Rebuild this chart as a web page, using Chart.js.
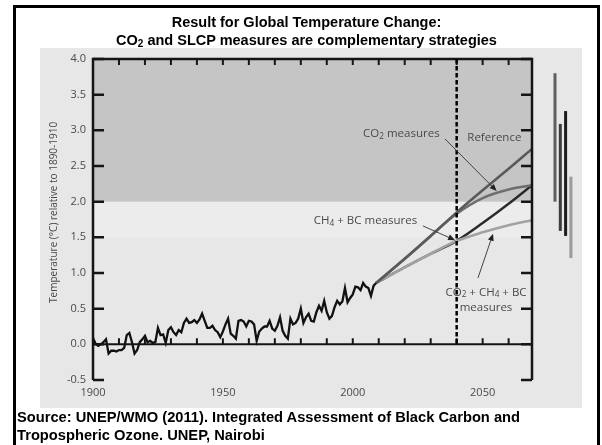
<!DOCTYPE html>
<html>
<head>
<meta charset="utf-8">
<script src="https://cdn.jsdelivr.net/npm/chart.js@4/dist/chart.umd.min.js"></script>
<style>
  html, body { margin: 0; padding: 0; background: #fff; width: 602px; height: 445px; overflow: hidden; }
  #frame { position: absolute; left: 13px; top: 5px; width: 587px; height: 470px; border: 3px solid #000; box-sizing: border-box; }
  #panel { position: absolute; left: 40px; top: 48px; width: 542px; height: 360px; background: #e7e7e7; }
  #chart { position: absolute; left: 0; top: 0; }
  #title { position: absolute; left: 13px; width: 587px; top: 13px; text-align: center;
           font: bold 14.5px "Liberation Sans", Arial, sans-serif; line-height: 18px; color: #000; }
  #source { position: absolute; left: 17px; top: 409px;
            font: bold 14.7px "Liberation Sans", Arial, sans-serif; line-height: 17.5px; color: #000; }
  sub { font-size: 10px; vertical-align: -2px; line-height: 0; }
</style>
</head>
<body>
<div id="frame"></div>
<div id="panel"></div>
<canvas id="chart" width="602" height="445"></canvas>
<div id="title">Result for Global Temperature Change:<br>CO<sub>2</sub> and SLCP measures are complementary strategies</div>
<div id="source">Source: UNEP/WMO (2011). Integrated Assessment of Black Carbon and<br>Tropospheric Ozone. UNEP, Nairobi</div>
<script>
// Observed global temperature, °C relative to 1890-1910, one value per year from 1900
const observedStartYear = 1900;
const observedValues = [
  0.09, 0.01, -0.02, 0.00, 0.03, 0.07, -0.13, -0.09, -0.09, -0.10,
  -0.08, -0.08, -0.05, 0.13, 0.16, 0.03, -0.13, -0.08, 0.03, 0.07,
  0.12, 0.03, 0.05, 0.02, 0.03, 0.23, 0.13, 0.14, 0.02, 0.20,
  0.24, 0.17, 0.13, 0.20, 0.17, 0.30, 0.36, 0.30, 0.31, 0.34,
  0.30, 0.35, 0.43, 0.33, 0.23, 0.23, 0.26, 0.20, 0.17, 0.10,
  0.18, 0.28, 0.36, 0.15, 0.12, 0.08, 0.33, 0.34, 0.32, 0.25,
  0.33, 0.32, 0.28, 0.05, 0.18, 0.22, 0.25, 0.25, 0.33, 0.22,
  0.19, 0.26, 0.38, 0.19, 0.12, 0.08, 0.36, 0.28, 0.30, 0.36,
  0.50, 0.30, 0.38, 0.43, 0.33, 0.32, 0.45, 0.54, 0.47, 0.61,
  0.45, 0.36, 0.40, 0.52, 0.61, 0.56, 0.60, 0.79, 0.59, 0.65,
  0.70, 0.81, 0.80, 0.76, 0.86, 0.81, 0.79, 0.68, 0.82, 0.86
];

// Projected scenarios
const projectionYears = [2009, 2020, 2030, 2040, 2050, 2060, 2069];
const referenceValues = [0.86, 1.20, 1.52, 1.85, 2.16, 2.46, 2.74];
const co2MeasuresValues = [0.86, 1.20, 1.52, 1.83, 2.05, 2.17, 2.23];
const ch4BcMeasuresValues = [0.86, 1.08, 1.27, 1.45, 1.70, 1.97, 2.23];
const allMeasuresValues = [0.86, 1.08, 1.27, 1.45, 1.57, 1.67, 1.74];

// Ranges of 2070 warming for each scenario: [low, high]
const rangeReference = [2.00, 3.80];
const rangeCo2 = [1.59, 3.09];
const rangeCh4Bc = [1.52, 3.27];
const rangeAll = [1.21, 2.35];

// Axis ticks
const xLabelYears = [1900, 1950, 2000, 2050];
const xMinorStep = 10;
const yTickValues = [-0.5, 0.0, 0.5, 1.0, 1.5, 2.0, 2.5, 3.0, 3.5, 4.0];
const implementationYear = 2040;
const targetLimit = 2.0;
const bandLow = 1.5;

const xMin = 1900, xMax = 2069;

const toPoints = (years, vals) => vals.map((v, i) => ({ x: years[i], y: v }));
const observedPoints = observedValues.map((v, i) => ({ x: observedStartYear + i, y: v }));

const labelColor = '#4a4a4a';
const labelFont = '"Open Sans", "DejaVu Sans", sans-serif';

function drawRich(ctx, parts, cx, cy, size) {
  const subSize = size * 0.72;
  let total = 0;
  const widths = parts.map(p => {
    ctx.font = (p.sub ? subSize : size) + 'px ' + labelFont;
    const w = ctx.measureText(p.t).width;
    total += w;
    return w;
  });
  let x = cx - total / 2;
  ctx.textBaseline = 'middle';
  ctx.textAlign = 'left';
  parts.forEach((p, i) => {
    ctx.font = (p.sub ? subSize : size) + 'px ' + labelFont;
    ctx.fillText(p.t, x, cy + (p.sub ? size * 0.22 : 0));
    x += widths[i];
  });
}

function arrow(ctx, x1, y1, x2, y2) {
  const ang = Math.atan2(y2 - y1, x2 - x1);
  const len = 7, half = 3;
  ctx.beginPath();
  ctx.moveTo(x1, y1);
  ctx.lineTo(x2 - Math.cos(ang) * len * 0.8, y2 - Math.sin(ang) * len * 0.8);
  ctx.stroke();
  ctx.beginPath();
  ctx.moveTo(x2, y2);
  ctx.lineTo(x2 - Math.cos(ang) * len - Math.sin(ang) * half, y2 - Math.sin(ang) * len + Math.cos(ang) * half);
  ctx.lineTo(x2 - Math.cos(ang) * len + Math.sin(ang) * half, y2 - Math.sin(ang) * len - Math.cos(ang) * half);
  ctx.closePath();
  ctx.fill();
}

// Labels placed in data coordinates (year, °C)
const annotations = [
  { parts: [{ t: 'CO' }, { t: '2', sub: true }, { t: ' measures' }], at: [2018.7, 2.95], arrow: [[2035.5, 2.88], [2055.4, 2.15]] },
  { parts: [{ t: 'Reference' }], at: [2054.5, 2.89] },
  { parts: [{ t: 'CH' }, { t: '4', sub: true }, { t: ' + BC measures' }], at: [2004.9, 1.73], arrow: [[2027, 1.66], [2039.4, 1.46]] },
  { parts: [{ t: 'CO' }, { t: '2', sub: true }, { t: ' + CH' }, { t: '4', sub: true }, { t: ' + BC' }], at: [2051.3, 0.73], arrow: [[2048.2, 0.93], [2054, 1.55]] },
  { parts: [{ t: 'measures' }], at: [2051.3, 0.52] }
];

const decor = {
  id: 'decor',
  beforeDatasetsDraw(chart) {
    const { ctx, chartArea: a, scales: { y } } = chart;
    const y2 = y.getPixelForValue(targetLimit);
    const y15 = y.getPixelForValue(bandLow);
    ctx.save();
    ctx.fillStyle = '#ececec';
    ctx.fillRect(a.left, y2, a.width, y15 - y2);
    ctx.fillStyle = '#c5c5c5';
    ctx.fillRect(a.left, a.top, a.width, y2 - a.top);
    ctx.restore();
  },
  afterDatasetsDraw(chart) {
    const { ctx, chartArea: a, scales: { x, y } } = chart;
    const y0 = y.getPixelForValue(0);
    ctx.save();
    ctx.strokeStyle = '#151515';
    ctx.lineCap = 'butt';

    // frame lines
    ctx.lineWidth = 2.5;
    ctx.beginPath();
    ctx.moveTo(a.left, a.bottom); ctx.lineTo(a.left, a.top);
    ctx.lineTo(a.right, a.top); ctx.lineTo(a.right, a.bottom);
    ctx.stroke();
    ctx.lineWidth = 2;
    ctx.beginPath();
    ctx.moveTo(a.left, y0); ctx.lineTo(a.right, y0);
    ctx.stroke();

    // y ticks on both sides, pointing inward
    ctx.lineWidth = 2.5;
    yTickValues.forEach(v => {
      const py = y.getPixelForValue(v);
      ctx.beginPath();
      ctx.moveTo(a.left, py); ctx.lineTo(a.left + 11, py);
      ctx.moveTo(a.right - 11, py); ctx.lineTo(a.right, py);
      ctx.stroke();
    });

    // decade ticks along top edge and the zero line
    ctx.lineWidth = 2;
    for (let yr = xMin + xMinorStep; yr < xMax; yr += xMinorStep) {
      const px = x.getPixelForValue(yr);
      ctx.beginPath();
      ctx.moveTo(px, a.top); ctx.lineTo(px, a.top + 6);
      ctx.moveTo(px, y0); ctx.lineTo(px, y0 - 6);
      ctx.stroke();
    }

    // year of implementation
    const px40 = x.getPixelForValue(implementationYear);
    ctx.strokeStyle = '#000';
    ctx.lineWidth = 2.5;
    ctx.setLineDash([4.5, 2.5]);
    ctx.beginPath();
    ctx.moveTo(px40, a.top); ctx.lineTo(px40, y0);
    ctx.stroke();
    ctx.setLineDash([]);

    // 2070 ranges beside the plot
    const ranges = [rangeReference, rangeCo2, rangeCh4Bc, rangeAll];
    const rangeColors = ['#5e5e5e', '#3c3c3c', '#1c1c1c', '#9a9a9a'];
    ctx.lineWidth = 3;
    ranges.forEach((r, i) => {
      const px = a.right + 23 + i * 5.3;
      ctx.strokeStyle = rangeColors[i];
      ctx.beginPath();
      ctx.moveTo(px, y.getPixelForValue(r[1]));
      ctx.lineTo(px, y.getPixelForValue(r[0]));
      ctx.stroke();
    });

    // labels and arrows
    ctx.fillStyle = labelColor;
    ctx.strokeStyle = '#444';
    ctx.lineWidth = 1;
    annotations.forEach(an => {
      drawRich(ctx, an.parts, x.getPixelForValue(an.at[0]), y.getPixelForValue(an.at[1]), 11.5);
      if (an.arrow) {
        ctx.fillStyle = '#222';
        arrow(ctx, x.getPixelForValue(an.arrow[0][0]), y.getPixelForValue(an.arrow[0][1]),
                   x.getPixelForValue(an.arrow[1][0]), y.getPixelForValue(an.arrow[1][1]));
        ctx.fillStyle = labelColor;
      }
    });

    // y-axis title
    ctx.fillStyle = labelColor;
    ctx.font = '10px ' + labelFont;
    ctx.textAlign = 'center';
    ctx.textBaseline = 'middle';
    ctx.translate(54, y.getPixelForValue(1.85));
    ctx.rotate(-Math.PI / 2);
    ctx.fillText('Temperature (°C) relative to 1890-1910', 0, 0);
    ctx.restore();
  }
};

const lineStyle = (color, width) => ({
  borderColor: color, borderWidth: width, pointRadius: 0, fill: false,
  tension: 0.4, cubicInterpolationMode: 'monotone'
});

new Chart(document.getElementById('chart'), {
  type: 'line',
  data: {
    datasets: [
      Object.assign({ label: 'Observed', data: observedPoints }, lineStyle('#111', 2.3), { tension: 0, cubicInterpolationMode: 'default' }),
      Object.assign({ label: 'Reference', data: toPoints(projectionYears, referenceValues) }, lineStyle('#5a5a5a', 2.6)),
      Object.assign({ label: 'CO2 measures', data: toPoints(projectionYears, co2MeasuresValues) }, lineStyle('#6e6e6e', 2.6)),
      Object.assign({ label: 'CO2 + CH4 + BC measures', data: toPoints(projectionYears, allMeasuresValues) }, lineStyle('#a2a2a2', 2.6)),
      Object.assign({ label: 'CH4 + BC measures', data: toPoints(projectionYears, ch4BcMeasuresValues) }, lineStyle('#2a2a2a', 2.4))
    ]
  },
  options: {
    responsive: false,
    animation: false,
    layout: { padding: { top: 59, right: 70, bottom: 45, left: 0 } },
    plugins: { legend: { display: false }, tooltip: { enabled: false } },
    scales: {
      x: {
        type: 'linear', min: xMin, max: xMax,
        grid: { display: false, drawTicks: false }, border: { display: false },
        afterBuildTicks(s) { s.ticks = xLabelYears.map(v => ({ value: v })); },
        afterFit(s) { s.height = 20; },
        ticks: { padding: 6, color: labelColor, font: { family: labelFont, size: 11 }, maxRotation: 0, callback: v => String(v) }
      },
      y: {
        min: -0.5, max: 4,
        grid: { display: false, drawTicks: false }, border: { display: false },
        afterBuildTicks(s) { s.ticks = yTickValues.map(v => ({ value: v })); },
        afterFit(s) { s.width = 93; },
        ticks: { padding: 7, color: labelColor, font: { family: labelFont, size: 11 }, callback: v => Number(v).toFixed(1) }
      }
    }
  },
  plugins: [decor]
});
</script>
</body>
</html>
